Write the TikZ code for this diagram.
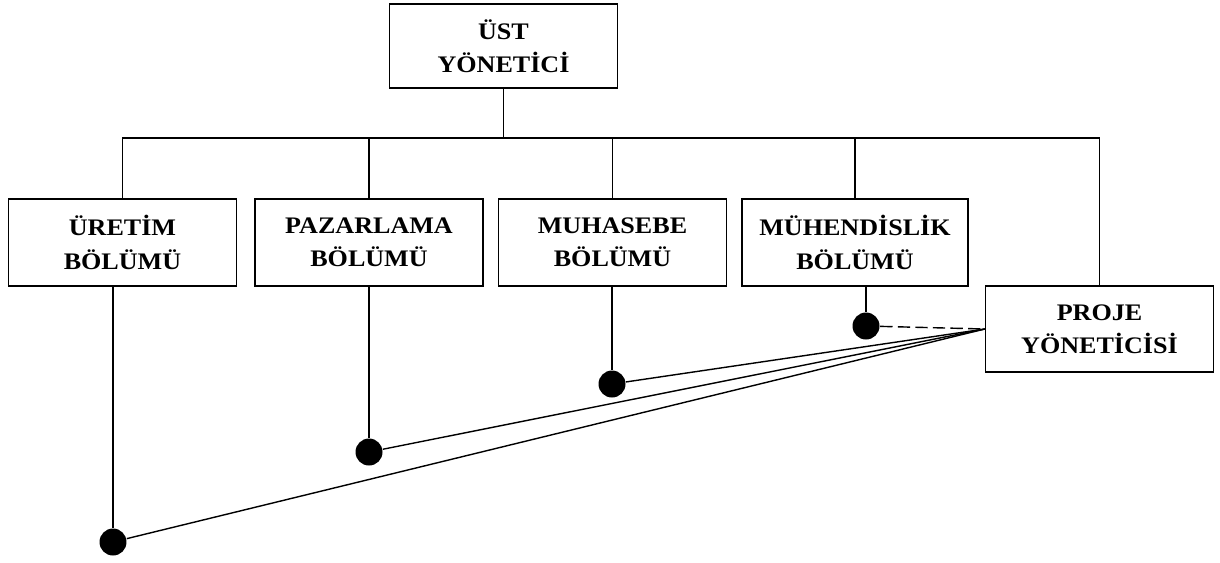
\documentclass[tikz,border=0pt]{standalone}
\usepackage{fontspec}
\setmainfont{Liberation Serif}[FakeStretch=1.1]
\begin{document}
\begin{tikzpicture}[x=0.02cm, y=-0.02cm, line width=0.8pt,
        birim/.style = {draw, minimum width=4.56cm, minimum height=1.74cm, align=center,
            font=\fontsize{13.5}{19}\selectfont\bfseries},
        nokta/.style = {circle, fill=black, inner sep=0pt, minimum size=0.54cm}]
        \useasboundingbox (0, 0) rectangle (1220, 562);
        % kutular
        \node [birim, minimum height=1.68cm] (ust) at (503.5, 46) {ÜST\\YÖNETİCİ};
        \node [birim] (uretim) at (122.5, 242.5) {ÜRETİM\\BÖLÜMÜ};
        \node [birim] (pazar) at (369, 242.5) {PAZARLAMA\\BÖLÜMÜ};
        \node [birim] (muhasebe) at (612.5, 242.5) {MUHASEBE\\BÖLÜMÜ};
        \node [birim, minimum width=4.52cm] (muhendis) at (855, 242.5) {MÜHENDİSLİK\\BÖLÜMÜ};
        \node [birim, minimum height=1.72cm] (proje) at (1099.5, 329) {PROJE\\YÖNETİCİSİ};
        % hiyerarşi çizgileri
        \coordinate (bus) at (0, 138);
        \draw (ust.south) -- (ust.south |- bus);
        \draw (uretim.north) |- (bus -| proje.north) -- (proje.north);
        \foreach \b in {pazar, muhasebe, muhendis}
            \draw (\b.north) -- (\b.north |- bus);
        % bağlantı noktaları
        \node [nokta] (n1) at (113, 542) {};
        \node [nokta] (n2) at (369, 452) {};
        \node [nokta] (n3) at (612, 384) {};
        \node [nokta] (n4) at (866, 326) {};
        \draw (n1) -- (n1 |- uretim.south);
        \draw (n2) -- (n2 |- pazar.south);
        \draw (n3) -- (n3 |- muhasebe.south);
        \draw (n4) -- (n4 |- muhendis.south);
        % proje yöneticisine
        \foreach \n in {n1, n2, n3}
            \draw (\n) -- (proje.west);
        \draw [dash pattern=on 7pt off 3pt] (n4) -- (proje.west);
    \end{tikzpicture}
\end{document}
